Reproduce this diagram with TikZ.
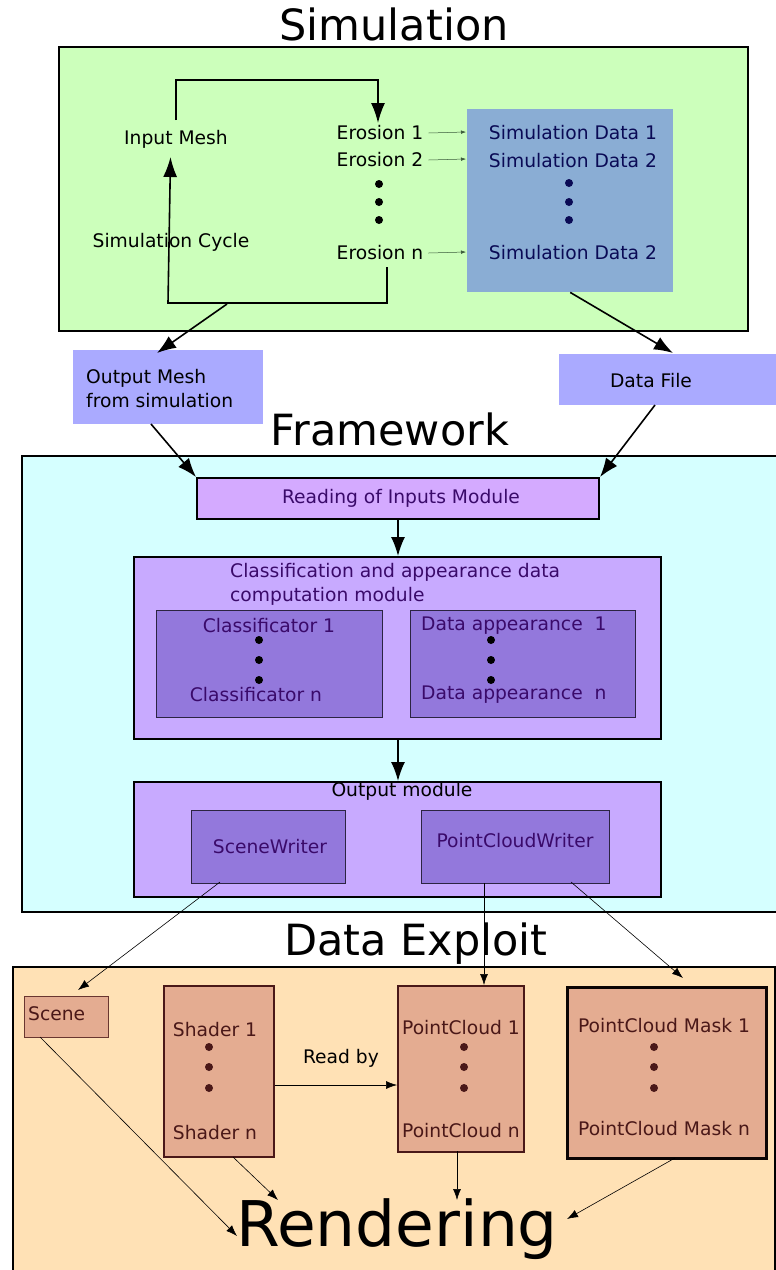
\documentclass[tikz,border=0pt]{standalone}
\usepackage{fontspec}
\setmainfont{DejaVu Sans}
\usetikzlibrary{arrows.meta}

\definecolor{simgreen}{HTML}{CCFFBB}
\definecolor{simdata}{HTML}{8AADD4}
\definecolor{simtext}{HTML}{0A0A55}
\definecolor{filebox}{HTML}{AAAAFF}
\definecolor{fwcyan}{HTML}{D5FFFF}
\definecolor{readbox}{HTML}{D4AAFF}
\definecolor{modbox}{HTML}{C8AAFF}
\definecolor{innerbox}{HTML}{9378DC}
\definecolor{purpletext}{HTML}{3A0A6A}
\definecolor{peach}{HTML}{FFE1B5}
\definecolor{brownbox}{HTML}{E4AC91}
\definecolor{browntext}{HTML}{4A1818}
\definecolor{thinarrow}{HTML}{3A5A3A}

\tikzset{
  txt/.style={font=\fontsize{18.7}{24}\selectfont, inner sep=0pt},
  title/.style={font=\fontsize{43}{48}\selectfont, inner sep=0pt},
  bigarrow/.style={line width=1.6pt, -{Latex[length=19pt,width=14pt]}},
  thinarr/.style={line width=0.6pt, -{Latex[length=11pt,width=8pt]}},
  tinyarr/.style={line width=0.5pt, thinarrow, -{Latex[length=5pt,width=3.5pt]}},
  region/.style={draw=black, line width=2pt, inner sep=0pt, anchor=north west},
  flatbox/.style={inner sep=0pt, anchor=north west},
  modulebox/.style={draw=black, line width=2pt, fill=modbox, inner sep=0pt, anchor=north west},
  subbox/.style={draw=black!70!innerbox, line width=1pt, fill=innerbox, inner sep=0pt, anchor=north west},
  brown/.style={draw=browntext, line width=1.5pt, fill=brownbox, inner sep=0pt, anchor=north west},
  dot/.style={circle, fill, inner sep=0pt, minimum size=8pt},
}

\begin{document}
\begin{tikzpicture}[x=1pt, y=-1pt]
\clip (0,0) rectangle (776,1270);
\fill[white] (0,0) rectangle (776,1270);

% ---------------- Simulation ----------------
\node[title] (tsim) at (394,24) {Simulation};
\node[region, fill=simgreen, minimum width=689pt, minimum height=284pt] (simbox) at (58,46) {};

\node[txt] (inmesh) at (176,139) {Input Mesh};
\node[txt] (cycle) at (171,242) {Simulation Cycle};
\node[txt] (ero1) at (380,133) {Erosion 1};
\node[txt] (ero2) at (380,160) {Erosion 2};
\node[txt] (eron) at (380,253) {Erosion n};
\node[dot] (ed1) at (379,184) {};
\node[dot] (ed2) at (379,202) {};
\node[dot] (ed3) at (379,220) {};

\node[flatbox, fill=simdata, minimum width=206pt, minimum height=183pt] (simdata) at (467,109) {};
\node[txt, text=simtext] (sd1) at (573,133) {Simulation Data 1};
\node[txt, text=simtext] (sd2) at (573,161) {Simulation Data 2};
\node[txt, text=simtext] (sdn) at (573,253) {Simulation Data 2};
\node[dot, fill=simtext] (sdd1) at (569,183) {};
\node[dot, fill=simtext] (sdd2) at (569,202) {};
\node[dot, fill=simtext] (sdd3) at (569,220) {};

% simulation cycle loop
\coordinate (loopa) at (176,80);
\coordinate (loopb) at (378,80);
\coordinate (loopc) at (387,303);
\coordinate (loopd) at (168,303);
\draw[line width=1.6pt, -{Latex[length=20pt,width=14pt]}] (176,120) -- (loopa) -- (loopb) -- (378,123);
\draw[line width=1.6pt, -{Latex[length=20pt,width=14pt]}] (387,267) -- (loopc) -- (loopd) -- (170.5,157);

% erosion to data
\draw[tinyarr] (ero1.east) ++(5,0) -- (466,132);
\draw[tinyarr] (ero2.east) ++(5,0) -- (466,159);
\draw[tinyarr] (eron.east) ++(5,0) -- (466,252);

% outputs of simulation
\node[flatbox, fill=filebox, minimum width=190pt, minimum height=74pt] (outmesh) at (73,350) {};
\node[txt, align=left, anchor=west] (outtxt) at (86,389) {Output Mesh\\from simulation};
\node[flatbox, fill=filebox, minimum width=220pt, minimum height=51pt] (datafile) at (559,354) {};
\node[txt] (dftxt) at (651,381) {Data File};

\coordinate (simout) at (227,304);
\draw[bigarrow] (simout) -- (157,353);
\draw[bigarrow] (simdata.south) -- (673,353);

% ---------------- Framework ----------------
\node[title] (tfw) at (390,429) {Framework};
\node[region, fill=fwcyan, minimum width=770pt, minimum height=456pt] (fwbox) at (21,455) {};

\node[draw=black, line width=2pt, fill=readbox, inner sep=0pt, anchor=north west, minimum width=402pt, minimum height=41pt] (reading) at (196,477) {};
\node[txt, text=purpletext] (readtxt) at (401,498) {Reading of Inputs Module};

\draw[bigarrow] (151,424) -- (reading.north west);
\draw[bigarrow] (655,405) -- (reading.north east);

\node[modulebox, minimum width=527pt, minimum height=182pt] (classmod) at (133,556) {};
\node[txt, text=purpletext, align=left, anchor=north west] (classtxt) at (230,563) {Classification and appearance data\\computation module};
\draw[bigarrow] (reading.south) -- (classmod.north -| reading.south);

\node[subbox, minimum width=226pt, minimum height=107pt] (classif) at (156,610) {};
\node[txt, text=purpletext] (cl1) at (269,626) {Classificator 1};
\node[txt, text=purpletext] (cln) at (256,695) {Classificator n};
\node[dot] (cd1) at (259,640) {};
\node[dot] (cd2) at (259,660) {};
\node[dot] (cd3) at (259,680) {};

\node[subbox, minimum width=225pt, minimum height=107pt] (dataapp) at (410,610) {};
\node[txt, text=purpletext, anchor=west] (da1) at (421,626) {Data appearance\ \ 1};
\node[txt, text=purpletext, anchor=west] (dan) at (421,695) {Data appearance\ \ n};
\node[dot] (dd1) at (491,640) {};
\node[dot] (dd2) at (491,660) {};
\node[dot] (dd3) at (491,680) {};

\node[modulebox, minimum width=527pt, minimum height=115pt] (outmod) at (133,781) {};
\node[txt] (outmodtxt) at (402,791) {Output module};
\draw[bigarrow] (classmod.south -| reading.south) -- (outmod.north -| reading.south);

\node[subbox, minimum width=154pt, minimum height=73pt] (scw) at (191,810) {};
\node[txt, text=purpletext] (scwtxt) at (270,847) {SceneWriter};
\node[subbox, minimum width=188pt, minimum height=73pt] (pcw) at (421,810) {};
\node[txt, text=purpletext] (pcwtxt) at (515,841) {PointCloudWriter};

% ---------------- Data Exploit ----------------
\node[title] (tde) at (416,944) {Data Exploit};
\node[region, fill=peach, minimum width=762pt, minimum height=320pt] (debox) at (12,966) {};

\node[draw=browntext!80!brownbox, line width=0.8pt, fill=brownbox, inner sep=0pt, anchor=north west, minimum width=84pt, minimum height=41pt] (scene) at (24,996) {};
\node[txt, text=browntext, anchor=west] (scenetxt) at (28,1014) {Scene};

\node[brown, minimum width=110pt, minimum height=171pt] (shader) at (163,985) {};
\node[txt, text=browntext] (sh1) at (215,1030) {Shader 1};
\node[txt, text=browntext] (shn) at (215,1133) {Shader n};
\node[dot, fill=browntext] (shd1) at (209,1047) {};
\node[dot, fill=browntext] (shd2) at (209,1067) {};
\node[dot, fill=browntext] (shd3) at (209,1088) {};

\node[brown, minimum width=126pt, minimum height=166pt] (pc) at (397,985) {};
\node[txt, text=browntext] (pc1) at (461,1028) {PointCloud 1};
\node[txt, text=browntext] (pcn) at (461,1131) {PointCloud n};
\node[dot, fill=browntext] (pcd1) at (464,1047) {};
\node[dot, fill=browntext] (pcd2) at (464,1067) {};
\node[dot, fill=browntext] (pcd3) at (464,1088) {};

\node[draw=black!85!browntext, line width=2.5pt, fill=brownbox, inner sep=0pt, anchor=north west, minimum width=199pt, minimum height=171pt] (mask) at (566,986) {};
\node[txt, text=browntext] (pm1) at (664,1026) {PointCloud Mask 1};
\node[txt, text=browntext] (pmn) at (664,1129) {PointCloud Mask n};
\node[dot, fill=browntext] (pmd1) at (654,1047) {};
\node[dot, fill=browntext] (pmd2) at (654,1067) {};
\node[dot, fill=browntext] (pmd3) at (654,1088) {};

\node[font=\fontsize{63}{70}\selectfont, inner sep=0pt] (render) at (397,1229) {Rendering};

% writers to data
\coordinate (scwout) at (220,882);
\coordinate (pcwout) at (484,883);
\coordinate (pcwout2) at (571,882);
\draw[thinarr] (scwout) -- (78,990);
\draw[thinarr] (pcwout) -- (pcwout |- pc.north);
\draw[thinarr] (pcwout2) -- (683,978);

% shaders read by point clouds
\draw[thinarr] (shader.east |- 0,1085) -- (pc.west |- 0,1085);
\node[txt] (readby) at (341,1058) {Read by};

% inputs of rendering
\draw[thinarr] (40,1037) -- (237,1236);
\draw[thinarr] (233,1157) -- (278,1200);
\draw[thinarr] (457,1151) -- (457,1200);
\draw[thinarr] (675,1158) -- (567,1219);
\end{tikzpicture}
\end{document}
